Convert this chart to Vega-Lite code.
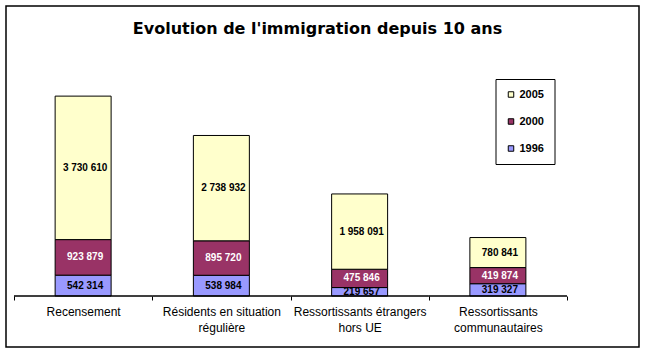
{
  "$schema": "https://vega.github.io/schema/vega-lite/v6.json",
  "width": 633,
  "height": 341,
  "autosize": {"type": "none"},
  "padding": {"left": 6, "top": 6, "right": 6, "bottom": 6},
  "background": "white",
  "config": {
    "locale": {"number": {"decimal": ",", "thousands": " ", "grouping": [3], "currency": ["", ""]}},
    "view": {"stroke": "black", "strokeWidth": 1.5},
    "font": "Liberation Sans"
  },
  "title": {
    "text": "Evolution de l'immigration depuis 10 ans",
    "font": "DejaVu Sans",
    "fontSize": 16,
    "fontWeight": "bold",
    "anchor": "middle",
    "frame": "group",
    "baseline": "alphabetic",
    "offset": 0,
    "dy": 44,
    "dx": -5,
    "color": "black"
  },
  "data": {
    "values": [
      {"cat": "Recensement", "series": "1996", "order": 1, "value": 542314},
      {"cat": "Recensement", "series": "2000", "order": 2, "value": 923879},
      {"cat": "Recensement", "series": "2005", "order": 3, "value": 3730610},
      {"cat": "Résidents en situation|régulière", "series": "1996", "order": 1, "value": 538984},
      {"cat": "Résidents en situation|régulière", "series": "2000", "order": 2, "value": 895720},
      {"cat": "Résidents en situation|régulière", "series": "2005", "order": 3, "value": 2738932},
      {"cat": "Ressortissants étrangers|hors UE", "series": "1996", "order": 1, "value": 219657},
      {"cat": "Ressortissants étrangers|hors UE", "series": "2000", "order": 2, "value": 475846},
      {"cat": "Ressortissants étrangers|hors UE", "series": "2005", "order": 3, "value": 1958091},
      {"cat": "Ressortissants|communautaires", "series": "1996", "order": 1, "value": 319327},
      {"cat": "Ressortissants|communautaires", "series": "2000", "order": 2, "value": 419874},
      {"cat": "Ressortissants|communautaires", "series": "2005", "order": 3, "value": 780841}
    ]
  },
  "transform": [
    {"stack": "value", "groupby": ["cat"], "sort": [{"field": "order"}], "as": ["y0", "y1"]},
    {"calculate": "(datum.y0 + datum.y1) / 2", "as": "ymid"}
  ],
  "encoding": {
    "x": {
      "field": "cat",
      "type": "nominal",
      "sort": null,
      "scale": {"paddingInner": 0, "paddingOuter": 0.2893, "align": 0.1},
      "axis": {
        "title": null,
        "orient": "bottom",
        "offset": -51,
        "domain": false,
        "grid": false,
        "tickBand": "extent",
        "tickSize": 4,
        "tickColor": "black",
        "tickWidth": 1,
        "labelAngle": 0,
        "labelFontSize": 12,
        "labelColor": "black",
        "labelFont": "Liberation Sans",
        "labelPadding": 6,
        "labelBaseline": "top",
        "labelLineHeight": 16,
        "labelOverlap": false,
        "labelExpr": "split(datum.label, '|')"
      }
    }
  },
  "layer": [
    {
      "mark": {"type": "bar", "width": {"band": 0.405}, "stroke": "black", "strokeWidth": 1},
      "encoding": {
        "y": {"field": "y0", "type": "quantitative", "scale": {"domain": [-1326000, 7540000], "nice": false, "zero": false}, "axis": null},
        "y2": {"field": "y1"},
        "color": {
          "field": "series",
          "type": "nominal",
          "scale": {"domain": ["2005", "2000", "1996"], "range": ["#FFFFCC", "#993366", "#9999FF"]},
          "legend": {
            "orient": "none",
            "legendX": 489.5,
            "legendY": 73,
            "title": null,
            "strokeColor": "black",
            "fillColor": "white",
            "padding": 10,
            "symbolType": "square",
            "symbolSize": 30,
            "symbolStrokeColor": "black",
            "symbolStrokeWidth": 1,
            "symbolOpacity": 1,
            "labelFontSize": 11,
            "labelFont": "Liberation Sans",
            "labelFontWeight": "bold",
            "labelColor": "black",
            "rowPadding": 15,
            "labelOffset": 3
          }
        }
      }
    },
    {
      "mark": {"type": "text", "font": "Liberation Sans", "fontWeight": "bold", "fontSize": 10, "dx": 2, "baseline": "middle"},
      "encoding": {
        "y": {"field": "ymid", "type": "quantitative"},
        "text": {"field": "value", "type": "quantitative", "format": ",d"},
        "color": {"condition": {"test": "datum.series === '2000'", "value": "white"}, "value": "black"}
      }
    },
    {
      "transform": [{"filter": "datum.series === '1996'"}],
      "mark": {"type": "bar", "width": {"band": 1}, "fill": "transparent", "stroke": "black", "strokeWidth": 1},
      "encoding": {"y": {"datum": 0}, "y2": {"datum": 0}}
    }
  ]
}
